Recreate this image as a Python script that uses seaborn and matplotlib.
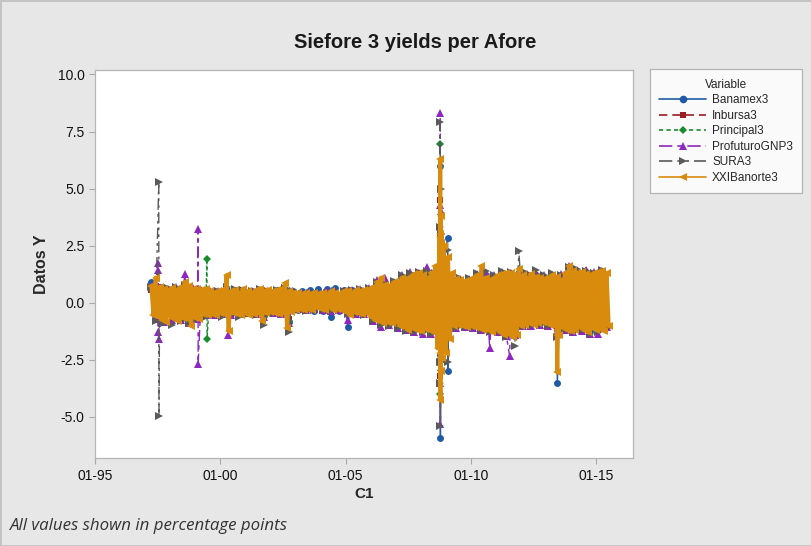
import numpy as np
import pandas as pd
import matplotlib
matplotlib.use("Agg")
import matplotlib.pyplot as plt
import matplotlib.dates as mdates
from matplotlib.lines import Line2D
import seaborn as sns

# ---------------- data (percentage points) ----------------
months = pd.date_range("1997-04-01", "2015-07-01", freq="MS")   # monthly grid
bimonths = months[::2]                                           # every other month

xxibanorte3 = [
    0.75, -0.55, 1.1, -0.6, 0.7, -0.75, 0.6, -0.85, 0.55,                     # 1997 Apr-Dec
    -0.6, 0.65, -0.7, 0.55, -0.8, 0.7, -0.65, 0.9, -0.7, 0.75, -1.0, 0.6,     # 1998
    -0.65, 0.6, -0.7, 0.55, -0.5, 0.6, -0.55, 0.5, -0.5, 0.45, -0.55, 0.5,    # 1999
    -0.45, 0.55, -0.5, 1.2, -1.25, 0.5, -0.45, 0.55, -0.5, 0.45, -0.55, 0.6,  # 2000
    -0.45, 0.5, -0.55, 0.45, -0.5, 0.55, -0.45, 0.6, -0.8, 0.5, -0.45, 0.55,  # 2001
    -0.4, 0.5, -0.45, 0.55, -0.5, 0.6, -0.45, 0.85, -1.1, 0.5, -0.4, 0.45,    # 2002
    -0.3, 0.45, -0.25, 0.4, -0.3, 0.45, -0.25, 0.4, -0.3, 0.45, -0.2, 0.4,    # 2003
    -0.25, 0.45, -0.3, 0.4, -0.2, 0.5, -0.3, 0.45, -0.25, 0.4, -0.3, 0.5,     # 2004
    -0.4, 0.5, -0.55, 0.45, -0.4, 0.55, -0.45, 0.5, -0.5, 0.55, -0.45, 0.6,   # 2005
    -0.6, 0.7, -0.75, 0.9, -0.8, 1.1, -0.9, 0.8, -0.85, 0.75, -0.9, 0.9,      # 2006
    -0.85, 0.9, -1.0, 1.1, -1.05, 1.0, -1.2, 1.15, -1.1, 1.25, -1.2, 1.3,     # 2007
    -1.25, 1.2, -1.15, 1.1, -1.2, 1.3, -1.3, 1.6, -2.0, 2.9, -2.4, 2.5,       # 2008
    -2.2, 2.0, -1.6, 1.3, -1.0, 1.05, -0.95, 1.0, -1.0, 0.95, -1.05, 1.0,     # 2009
    -1.0, 1.1, -1.05, 1.2, -1.1, 1.6, -1.2, 1.1, -1.2, 1.0, -1.3, 1.1,        # 2010
    -1.15, 1.2, -1.3, 1.25, -1.4, 1.3, -1.35, 1.3, -1.5, 1.2, -1.4, 1.5,      # 2011
    -1.0, 1.2, -0.95, 1.1, -0.9, 1.25, -0.95, 1.15, -0.9, 1.1, -0.85, 1.05,   # 2012
    -0.9, 1.1, -0.95, 1.2, -1.0, 1.15, -1.4, 1.0, -1.1, 1.3, -1.2, 1.6,       # 2013
    -1.25, 1.4, -1.2, 1.3, -1.05, 1.35, -1.2, 1.25, -1.3, 1.2, -1.1, 1.3,     # 2014
    -1.2, 1.35, -1.15, 1.4, -1.25, 1.3, -1.0,                                 # 2015 Jan-Jul
]
xxibanorte3_extra_dates = ["2008-10-03", "2008-10-06", "2008-10-08", "2008-10-10", "2008-10-13",
                           "2008-10-15", "2008-10-17", "2008-10-20", "2008-10-24",
                           "2013-06-10", "2013-06-12", "2013-06-14"]
xxibanorte3_extra_vals = [-1.5, 3.0, -2.2, 6.3, -4.25, 3.8, -3.0, 2.6, -2.0, -1.4, -3.05, -1.2]

sura3 = [
    0.7, -0.8, 0.6, -0.9, 0.65,
    -0.95, 0.7, -0.8, 0.8, -0.9, 0.6,
    -0.7, 0.55, -0.6, 0.5, -0.55, 0.5,
    -0.6, 0.7, -0.5, 0.6, -0.6, 0.55,
    -0.5, 0.5, -0.55, 0.6, -0.95, 0.5,
    -0.45, 0.55, -0.5, 0.65, -1.3, 0.5,
    -0.3, 0.4, -0.35, 0.45, -0.3, 0.4,
    -0.3, 0.45, -0.35, 0.5, -0.3, 0.5,
    -0.5, 0.55, -0.5, 0.6, -0.55, 0.65,
    -0.8, 0.9, -0.95, 0.85, -1.0, 0.95,
    -1.1, 1.2, -1.25, 1.3, -1.3, 1.35,
    -1.3, 1.4, -1.35, 1.3, -2.6, 2.0,
    -1.5, 1.2, -1.1, 1.1, -1.05, 1.1,
    -1.1, 1.3, -1.2, 1.4, -1.3, 1.2,
    -1.3, 1.4, -1.5, 1.35, -1.9, 2.25,
    -1.0, 1.3, -1.0, 1.45, -0.95, 1.2,
    -1.0, 1.3, -1.5, 1.2, -1.2, 1.55,
    -1.3, 1.5, -1.2, 1.4, -1.35, 1.3,
    -1.3, 1.45, -1.1,
]
sura3_extra_dates = ["1997-07-18", "1997-07-21",
                     "2008-10-06", "2008-10-08", "2008-10-10", "2008-10-13", "2008-10-15",
                     "2008-10-17", "2008-10-22", "2009-01-26", "2009-01-28"]
sura3_extra_vals = [5.3, -4.95, 3.3, -3.5, 7.9, -5.4, 5.0, -2.6, 3.0, 2.3, -2.6]

profuturognp3 = [
    0.75, -0.7, 0.65, -0.85, 0.6,
    -0.75, 0.7, -0.75, 1.27, -0.9, 0.65,
    -0.7, 0.55, -0.55, 0.5, -0.55, 0.5,
    -0.5, 0.55, -0.55, 0.5, -0.5, 0.55,
    -0.45, 0.5, -0.5, 0.55, -0.6, 0.5,
    -0.45, 0.5, -0.5, 0.6, -0.9, 0.5,
    -0.25, 0.45, -0.3, 0.45, -0.25, 0.4,
    -0.3, 0.5, -0.35, 0.5, -0.3, 0.5,
    -0.75, 0.55, -0.5, 0.6, -0.5, 0.65,
    -0.8, 1.0, -1.05, 1.1, -0.95, 0.9,
    -1.1, 1.2, -1.2, 1.35, -1.3, 1.3,
    -1.35, 1.55, -1.35, 1.3, -2.4, 2.0,
    -1.4, 1.15, -1.1, 1.05, -1.05, 1.05,
    -1.1, 1.25, -1.2, 1.3, -2.0, 1.2,
    -1.3, 1.35, -1.45, 1.3, -1.4, 1.4,
    -1.0, 1.25, -1.0, 1.3, -0.95, 1.2,
    -1.0, 1.2, -1.3, 1.25, -1.2, 1.6,
    -1.3, 1.45, -1.25, 1.45, -1.35, 1.35,
    -1.35, 1.4, -1.05,
]
profuturognp3_extra_dates = ["1997-07-10", "1997-07-12", "1997-07-14", "1997-07-16",
                             "1999-02-10", "1999-02-12", "2000-04-20",
                             "2008-10-06", "2008-10-08", "2008-10-10", "2008-10-13",
                             "2008-10-15", "2008-10-17", "2011-07-20"]
profuturognp3_extra_vals = [1.75, -1.3, 1.45, -1.6, 3.25, -2.7, -1.4,
                            4.3, -3.5, 8.33, -5.3, 4.0, -2.8, -2.35]

principal3 = [
    0.6, -0.5, 0.55, -0.6, 0.5,
    -0.55, 0.6, -0.6, 0.65, -0.7, 0.55,
    -0.6, 0.5, -0.45, 0.45, -0.5, 0.45,
    -0.4, 0.5, -0.45, 0.5, -0.45, 0.5,
    -0.4, 0.45, -0.5, 0.5, -0.6, 0.45,
    -0.4, 0.5, -0.45, 0.6, -0.8, 0.45,
    -0.2, 0.4, -0.2, 0.4, -0.25, 0.35,
    -0.25, 0.4, -0.25, 0.45, -0.25, 0.45,
    -0.4, 0.45, -0.45, 0.5, -0.45, 0.5,
    -0.7, 0.8, -0.8, 0.75, -0.85, 0.8,
    -0.95, 1.05, -1.05, 1.1, -1.1, 1.15,
    -1.1, 1.15, -1.2, 1.1, -2.0, 1.7,
    -1.2, 1.0, -0.95, 0.9, -0.95, 0.95,
    -0.95, 1.05, -1.0, 1.15, -1.1, 1.0,
    -1.1, 1.15, -1.25, 1.2, -1.35, 1.3,
    -0.85, 1.05, -0.85, 1.1, -0.8, 1.0,
    -0.85, 1.0, -1.45, 1.0, -1.0, 1.25,
    -1.1, 1.2, -1.0, 1.4, -1.1, 1.15,
    -1.1, 1.2, -0.95,
]
principal3_extra_dates = ["1999-06-20", "1999-06-22", "2008-10-10", "2008-10-13", "2008-10-15"]
principal3_extra_vals = [1.93, -1.6, 6.97, -4.0, 3.0]

banamex3 = [
    0.9, -0.6, 0.7, -0.7, 0.6,
    -0.6, 0.6, -0.7, 0.7, -0.8, 0.55,
    -0.6, 0.5, -0.5, 0.45, -0.5, 0.45,
    -0.45, 0.55, -0.5, 0.55, -0.5, 0.5,
    -0.45, 0.5, -0.5, 0.55, -0.55, 0.5,
    -0.45, 0.55, -0.5, 0.6, -0.85, 0.5,
    -0.3, 0.5, -0.3, 0.55, -0.35, 0.6,
    -0.35, 0.6, -0.6, 0.65, -0.35, 0.55,
    -1.05, 0.55, -0.5, 0.55, -0.45, 0.6,
    -0.7, 0.85, -0.85, 0.8, -0.9, 0.85,
    -1.0, 1.1, -1.1, 1.2, -1.15, 1.2,
    -1.2, 1.25, -1.25, 1.2, -2.3, 1.8,
    -1.3, 1.05, -1.0, 0.95, -1.0, 1.0,
    -1.0, 1.15, -1.1, 1.2, -1.2, 1.1,
    -1.2, 1.25, -1.35, 1.25, -1.45, 1.35,
    -0.95, 1.15, -0.9, 1.2, -0.9, 1.1,
    -0.95, 1.1, -1.2, 1.1, -1.1, 1.4,
    -1.2, 1.3, -1.15, 1.3, -1.25, 1.25,
    -1.2, 1.3, -1.0,
]
banamex3_extra_dates = ["2008-10-10", "2008-10-13", "2008-10-15", "2009-01-26", "2009-01-28",
                        "2013-06-13"]
banamex3_extra_vals = [5.97, -5.9, 2.6, 2.85, -3.0, -3.5]

inbursa3 = [
    0.55, -0.5, 0.5, -0.55, 0.45,
    -0.5, 0.55, -0.55, 0.6, -0.6, 0.5,
    -0.5, 0.45, -0.45, 0.4, -0.45, 0.4,
    -0.4, 0.45, -0.4, 0.45, -0.4, 0.45,
    -0.4, 0.4, -0.45, 0.45, -0.5, 0.4,
    -0.35, 0.45, -0.4, 0.5, -0.7, 0.4,
    -0.2, 0.35, -0.2, 0.35, -0.2, 0.3,
    -0.2, 0.35, -0.2, 0.4, -0.2, 0.4,
    -0.35, 0.4, -0.4, 0.45, -0.4, 0.45,
    -0.6, 0.7, -0.7, 0.7, -0.75, 0.7,
    -0.85, 0.95, -0.95, 1.0, -1.0, 1.05,
    -1.0, 1.05, -1.1, 1.0, -1.8, 1.5,
    -1.1, 0.9, -0.85, 0.85, -0.85, 0.85,
    -0.85, 0.95, -0.9, 1.05, -1.0, 0.9,
    -1.0, 1.05, -1.15, 1.1, -1.2, 1.15,
    -0.75, 0.95, -0.75, 1.0, -0.7, 0.9,
    -0.75, 0.9, -1.0, 0.9, -0.9, 1.1,
    -1.0, 1.1, -0.9, 1.1, -1.0, 1.05,
    -1.0, 1.1, -0.85,
]
inbursa3_extra_dates = ["2008-10-10", "2008-10-13"]
inbursa3_extra_vals = [4.5, -3.2]

series_names = ["Banamex3", "Inbursa3", "Principal3", "ProfuturoGNP3", "SURA3", "XXIBanorte3"]
x_tick_years = ["1995-01-01", "2000-01-01", "2005-01-01", "2010-01-01", "2015-01-01"]
y_ticks = [-5.0, -2.5, 0.0, 2.5, 5.0, 7.5, 10.0]

# ---------------- assemble ----------------
def build(dates, vals, xd, xv):
    d = list(pd.to_datetime(dates)) + list(pd.to_datetime(xd))
    v = list(vals) + list(xv)
    return pd.DataFrame({"Fecha": d, "Valor": v}).sort_values("Fecha").reset_index(drop=True)

frames = {
    "Banamex3": build(bimonths, banamex3, banamex3_extra_dates, banamex3_extra_vals),
    "Inbursa3": build(bimonths, inbursa3, inbursa3_extra_dates, inbursa3_extra_vals),
    "Principal3": build(bimonths, principal3, principal3_extra_dates, principal3_extra_vals),
    "ProfuturoGNP3": build(bimonths, profuturognp3, profuturognp3_extra_dates, profuturognp3_extra_vals),
    "SURA3": build(bimonths, sura3, sura3_extra_dates, sura3_extra_vals),
    "XXIBanorte3": build(months, xxibanorte3, xxibanorte3_extra_dates, xxibanorte3_extra_vals),
}

styles = {
    "Banamex3": dict(color="#1f5aa6", marker="o", ms=5.0, ls="-", lw=1.0),
    "Inbursa3": dict(color="#9b1c22", marker="s", ms=4.5, ls=(0, (5, 3)), lw=1.0),
    "Principal3": dict(color="#1a8a2e", marker="D", ms=4.0, ls=(0, (2.5, 2)), lw=1.0),
    "ProfuturoGNP3": dict(color="#9026c0", marker="^", ms=5.5, ls=(0, (8, 3, 3, 3)), lw=1.0),
    "SURA3": dict(color="#5a5a5a", marker=">", ms=5.5, ls=(0, (8, 3, 2, 3, 2, 3)), lw=1.0),
    "XXIBanorte3": dict(color="#d98b0e", marker="<", ms=5.5, ls="-", lw=2.9),
}

# ---------------- plot ----------------
sns.set_style("white")
plt.rcParams["font.family"] = ["Liberation Sans", "DejaVu Sans"]
plt.rcParams["path.simplify"] = False

fig = plt.figure(figsize=(8.12, 5.46), dpi=100)
fig.patch.set_facecolor("#e7e7e7")
fig.patch.set_edgecolor("#c4c4c4")
fig.patch.set_linewidth(1.0)
ax = fig.add_axes([0.117, 0.161, 0.6626, 0.711])
ax.set_facecolor("white")

for name in series_names:
    st = styles[name]
    sns.lineplot(data=frames[name], x="Fecha", y="Valor", ax=ax, estimator=None, sort=False,
                 color=st["color"], marker=st["marker"], markersize=st["ms"],
                 markeredgewidth=0, linestyle=st["ls"], linewidth=st["lw"], label=name)

ax.set_xlim(pd.Timestamp("1995-01-01"), pd.Timestamp("2016-06-20"))
ax.set_ylim(-6.8, 10.2)
ax.set_xticks(pd.to_datetime(x_tick_years))
ax.xaxis.set_major_formatter(mdates.DateFormatter("%m-%y"))
ax.set_yticks(y_ticks)
ax.set_yticklabels([f"{t:.1f}" for t in y_ticks])
ax.tick_params(axis="both", which="major", length=4, width=0.8, color="#a8a8a8",
               labelsize=10, labelcolor="#111111", direction="out", left=True, bottom=True)
for sp in ax.spines.values():
    sp.set_color("#b5b5b5")
    sp.set_linewidth(0.9)

ax.set_xlabel("C1", fontsize=11, fontweight="bold", labelpad=3)
ax.set_ylabel("Datos Y", fontsize=11.5, fontweight="bold", labelpad=6)

fig.text(0.511, 0.922, "Siefore 3 yields per Afore", ha="center", va="center",
         fontsize=14.5, fontweight="bold", color="#1a1a1a")
fig.text(0.012, 0.037, "All values shown in percentage points", ha="left", va="center",
         fontsize=12.2, style="italic", color="#333333", family=["Open Sans", "DejaVu Sans"])

ax.get_legend().remove()
handles = [Line2D([], [], color=styles[n]["color"], marker=styles[n]["marker"],
                  markersize=styles[n]["ms"] + 0.5, markeredgewidth=0,
                  linestyle=styles[n]["ls"], linewidth=1.2) for n in series_names]
leg = fig.legend(handles, series_names, title="Variable", loc="upper left",
                 bbox_to_anchor=(0.800, 0.873), bbox_transform=fig.transFigure,
                 fontsize=8.5, title_fontsize=8.5, frameon=True, fancybox=False,
                 handlelength=4.0, handletextpad=0.5, labelspacing=0.3,
                 borderpad=0.8, borderaxespad=0)
leg.get_frame().set_edgecolor("#a5a5a5")
leg.get_frame().set_linewidth(0.9)
leg.get_frame().set_facecolor("white")

fig.savefig("out.png", dpi=100, facecolor=fig.get_facecolor(), edgecolor=fig.get_edgecolor())
